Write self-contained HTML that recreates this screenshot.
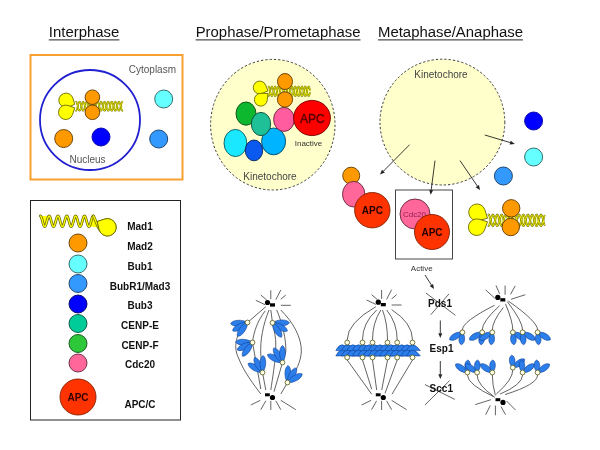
<!DOCTYPE html>
<html><head><meta charset="utf-8"><title>Spindle checkpoint</title>
<style>
html,body{margin:0;padding:0;background:#fff;width:600px;height:450px;overflow:hidden}
svg{display:block;font-family:"Liberation Sans",sans-serif;filter:blur(0.35px)}
</style></head><body>
<svg width="600" height="450" viewBox="0 0 600 450" font-family="Liberation Sans, sans-serif">
<rect width="600" height="450" fill="#fff"/>
<text x="48.8" y="37.0" font-size="14.9" fill="#111" text-anchor="start" font-weight="normal" textLength="70.6" lengthAdjust="spacingAndGlyphs">Interphase</text>
<line x1="48.8" y1="39.9" x2="119.39999999999999" y2="39.9" stroke="#222" stroke-width="1"/>
<text x="195.7" y="37.0" font-size="14.9" fill="#111" text-anchor="start" font-weight="normal" textLength="164.8" lengthAdjust="spacingAndGlyphs">Prophase/Prometaphase</text>
<line x1="195.7" y1="39.9" x2="360.5" y2="39.9" stroke="#222" stroke-width="1"/>
<text x="378.0" y="37.0" font-size="14.9" fill="#111" text-anchor="start" font-weight="normal" textLength="145" lengthAdjust="spacingAndGlyphs">Metaphase/Anaphase</text>
<line x1="378" y1="39.9" x2="523" y2="39.9" stroke="#222" stroke-width="1"/>
<rect x="30.5" y="55" width="152" height="124.5" fill="#fff" stroke="#F7A030" stroke-width="2"/>
<circle cx="90" cy="120" r="50" fill="#fff" stroke="#2020D0" stroke-width="1.8"/>
<text x="152.4" y="72.5" font-size="10" fill="#555" text-anchor="middle" font-weight="normal" >Cytoplasm</text>
<text x="87.5" y="162.5" font-size="10" fill="#555" text-anchor="middle" font-weight="normal" >Nucleus</text>
<path d="M76.00,101.60 L76.36,101.83 L76.72,102.48 L77.07,103.50 L77.43,104.78 L77.79,106.20 L78.15,107.62 L78.50,108.90 L78.86,109.92 L79.22,110.57 L79.58,110.80 L79.93,110.57 L80.29,109.92 L80.65,108.90 L81.01,107.62 L81.37,106.20 L81.72,104.78 L82.08,103.50 L82.44,102.48 L82.80,101.83 L83.15,101.60 L83.51,101.83 L83.87,102.48 L84.23,103.50 L84.58,104.78 L84.94,106.20 L85.30,107.62 L85.66,108.90 L86.02,109.92 L86.37,110.57 L86.73,110.80 L87.09,110.57 L87.45,109.92 L87.80,108.90 L88.16,107.62 L88.52,106.20 L88.88,104.78 L89.23,103.50 L89.59,102.48 L89.95,101.83 L90.31,101.60 L90.67,101.83 L91.02,102.48 L91.38,103.50 L91.74,104.78 L92.10,106.20 L92.45,107.62 L92.81,108.90 L93.17,109.92 L93.53,110.57 L93.88,110.80 L94.24,110.57 L94.60,109.92 L94.96,108.90 L95.32,107.62 L95.67,106.20 L96.03,104.78 L96.39,103.50 L96.75,102.48 L97.10,101.83 L97.46,101.60 L97.82,101.83 L98.18,102.48 L98.53,103.50 L98.89,104.78 L99.25,106.20 L99.61,107.62 L99.97,108.90 L100.32,109.92 L100.68,110.57 L101.04,110.80 L101.40,110.57 L101.75,109.92 L102.11,108.90 L102.47,107.62 L102.83,106.20 L103.18,104.78 L103.54,103.50 L103.90,102.48 L104.26,101.83 L104.62,101.60 L104.97,101.83 L105.33,102.48 L105.69,103.50 L106.05,104.78 L106.40,106.20 L106.76,107.62 L107.12,108.90 L107.48,109.92 L107.83,110.57 L108.19,110.80 L108.55,110.57 L108.91,109.92 L109.27,108.90 L109.62,107.62 L109.98,106.20 L110.34,104.78 L110.70,103.50 L111.05,102.48 L111.41,101.83 L111.77,101.60 L112.13,101.83 L112.48,102.48 L112.84,103.50 L113.20,104.78 L113.56,106.20 L113.92,107.62 L114.27,108.90 L114.63,109.92 L114.99,110.57 L115.35,110.80 L115.70,110.57 L116.06,109.92 L116.42,108.90 L116.78,107.62 L117.13,106.20 L117.49,104.78 L117.85,103.50 L118.21,102.48 L118.57,101.83 L118.92,101.60 L119.28,101.83 L119.64,102.48 L120.00,103.50 L120.35,104.78 L120.71,106.20 L121.07,107.62 L121.43,108.90 L121.78,109.92 L122.14,110.57 L122.50,110.80 L122.50,101.60 L116.69,104.44 L110.88,109.45 L105.06,110.45 L99.25,106.20 L93.44,101.95 L87.62,102.95 L81.81,107.96 L76.00,110.80 Z" fill="#FFFF33" fill-opacity="0.45" stroke="none"/>
<path d="M76.00,110.80 L76.36,110.57 L76.72,109.92 L77.07,108.90 L77.43,107.62 L77.79,106.20 L78.15,104.78 L78.50,103.50 L78.86,102.48 L79.22,101.83 L79.58,101.60 L79.93,101.83 L80.29,102.48 L80.65,103.50 L81.01,104.78 L81.37,106.20 L81.72,107.62 L82.08,108.90 L82.44,109.92 L82.80,110.57 L83.15,110.80 L83.51,110.57 L83.87,109.92 L84.23,108.90 L84.58,107.62 L84.94,106.20 L85.30,104.78 L85.66,103.50 L86.02,102.48 L86.37,101.83 L86.73,101.60 L87.09,101.83 L87.45,102.48 L87.80,103.50 L88.16,104.78 L88.52,106.20 L88.88,107.62 L89.23,108.90 L89.59,109.92 L89.95,110.57 L90.31,110.80 L90.67,110.57 L91.02,109.92 L91.38,108.90 L91.74,107.62 L92.10,106.20 L92.45,104.78 L92.81,103.50 L93.17,102.48 L93.53,101.83 L93.88,101.60 L94.24,101.83 L94.60,102.48 L94.96,103.50 L95.32,104.78 L95.67,106.20 L96.03,107.62 L96.39,108.90 L96.75,109.92 L97.10,110.57 L97.46,110.80 L97.82,110.57 L98.18,109.92 L98.53,108.90 L98.89,107.62 L99.25,106.20 L99.61,104.78 L99.97,103.50 L100.32,102.48 L100.68,101.83 L101.04,101.60 L101.40,101.83 L101.75,102.48 L102.11,103.50 L102.47,104.78 L102.83,106.20 L103.18,107.62 L103.54,108.90 L103.90,109.92 L104.26,110.57 L104.62,110.80 L104.97,110.57 L105.33,109.92 L105.69,108.90 L106.05,107.62 L106.40,106.20 L106.76,104.78 L107.12,103.50 L107.48,102.48 L107.83,101.83 L108.19,101.60 L108.55,101.83 L108.91,102.48 L109.27,103.50 L109.62,104.78 L109.98,106.20 L110.34,107.62 L110.70,108.90 L111.05,109.92 L111.41,110.57 L111.77,110.80 L112.13,110.57 L112.48,109.92 L112.84,108.90 L113.20,107.62 L113.56,106.20 L113.92,104.78 L114.27,103.50 L114.63,102.48 L114.99,101.83 L115.35,101.60 L115.70,101.83 L116.06,102.48 L116.42,103.50 L116.78,104.78 L117.13,106.20 L117.49,107.62 L117.85,108.90 L118.21,109.92 L118.57,110.57 L118.92,110.80 L119.28,110.57 L119.64,109.92 L120.00,108.90 L120.35,107.62 L120.71,106.20 L121.07,104.78 L121.43,103.50 L121.78,102.48 L122.14,101.83 L122.50,101.60" fill="none" stroke="#6a6a08" stroke-width="1.6" stroke-linejoin="round" stroke-linecap="round"/>
<path d="M76.00,110.80 L76.36,110.57 L76.72,109.92 L77.07,108.90 L77.43,107.62 L77.79,106.20 L78.15,104.78 L78.50,103.50 L78.86,102.48 L79.22,101.83 L79.58,101.60 L79.93,101.83 L80.29,102.48 L80.65,103.50 L81.01,104.78 L81.37,106.20 L81.72,107.62 L82.08,108.90 L82.44,109.92 L82.80,110.57 L83.15,110.80 L83.51,110.57 L83.87,109.92 L84.23,108.90 L84.58,107.62 L84.94,106.20 L85.30,104.78 L85.66,103.50 L86.02,102.48 L86.37,101.83 L86.73,101.60 L87.09,101.83 L87.45,102.48 L87.80,103.50 L88.16,104.78 L88.52,106.20 L88.88,107.62 L89.23,108.90 L89.59,109.92 L89.95,110.57 L90.31,110.80 L90.67,110.57 L91.02,109.92 L91.38,108.90 L91.74,107.62 L92.10,106.20 L92.45,104.78 L92.81,103.50 L93.17,102.48 L93.53,101.83 L93.88,101.60 L94.24,101.83 L94.60,102.48 L94.96,103.50 L95.32,104.78 L95.67,106.20 L96.03,107.62 L96.39,108.90 L96.75,109.92 L97.10,110.57 L97.46,110.80 L97.82,110.57 L98.18,109.92 L98.53,108.90 L98.89,107.62 L99.25,106.20 L99.61,104.78 L99.97,103.50 L100.32,102.48 L100.68,101.83 L101.04,101.60 L101.40,101.83 L101.75,102.48 L102.11,103.50 L102.47,104.78 L102.83,106.20 L103.18,107.62 L103.54,108.90 L103.90,109.92 L104.26,110.57 L104.62,110.80 L104.97,110.57 L105.33,109.92 L105.69,108.90 L106.05,107.62 L106.40,106.20 L106.76,104.78 L107.12,103.50 L107.48,102.48 L107.83,101.83 L108.19,101.60 L108.55,101.83 L108.91,102.48 L109.27,103.50 L109.62,104.78 L109.98,106.20 L110.34,107.62 L110.70,108.90 L111.05,109.92 L111.41,110.57 L111.77,110.80 L112.13,110.57 L112.48,109.92 L112.84,108.90 L113.20,107.62 L113.56,106.20 L113.92,104.78 L114.27,103.50 L114.63,102.48 L114.99,101.83 L115.35,101.60 L115.70,101.83 L116.06,102.48 L116.42,103.50 L116.78,104.78 L117.13,106.20 L117.49,107.62 L117.85,108.90 L118.21,109.92 L118.57,110.57 L118.92,110.80 L119.28,110.57 L119.64,109.92 L120.00,108.90 L120.35,107.62 L120.71,106.20 L121.07,104.78 L121.43,103.50 L121.78,102.48 L122.14,101.83 L122.50,101.60" fill="none" stroke="#FFFF00" stroke-width="0.85" stroke-linejoin="round" stroke-linecap="round"/>
<path d="M76.00,101.60 L76.36,101.83 L76.72,102.48 L77.07,103.50 L77.43,104.78 L77.79,106.20 L78.15,107.62 L78.50,108.90 L78.86,109.92 L79.22,110.57 L79.58,110.80 L79.93,110.57 L80.29,109.92 L80.65,108.90 L81.01,107.62 L81.37,106.20 L81.72,104.78 L82.08,103.50 L82.44,102.48 L82.80,101.83 L83.15,101.60 L83.51,101.83 L83.87,102.48 L84.23,103.50 L84.58,104.78 L84.94,106.20 L85.30,107.62 L85.66,108.90 L86.02,109.92 L86.37,110.57 L86.73,110.80 L87.09,110.57 L87.45,109.92 L87.80,108.90 L88.16,107.62 L88.52,106.20 L88.88,104.78 L89.23,103.50 L89.59,102.48 L89.95,101.83 L90.31,101.60 L90.67,101.83 L91.02,102.48 L91.38,103.50 L91.74,104.78 L92.10,106.20 L92.45,107.62 L92.81,108.90 L93.17,109.92 L93.53,110.57 L93.88,110.80 L94.24,110.57 L94.60,109.92 L94.96,108.90 L95.32,107.62 L95.67,106.20 L96.03,104.78 L96.39,103.50 L96.75,102.48 L97.10,101.83 L97.46,101.60 L97.82,101.83 L98.18,102.48 L98.53,103.50 L98.89,104.78 L99.25,106.20 L99.61,107.62 L99.97,108.90 L100.32,109.92 L100.68,110.57 L101.04,110.80 L101.40,110.57 L101.75,109.92 L102.11,108.90 L102.47,107.62 L102.83,106.20 L103.18,104.78 L103.54,103.50 L103.90,102.48 L104.26,101.83 L104.62,101.60 L104.97,101.83 L105.33,102.48 L105.69,103.50 L106.05,104.78 L106.40,106.20 L106.76,107.62 L107.12,108.90 L107.48,109.92 L107.83,110.57 L108.19,110.80 L108.55,110.57 L108.91,109.92 L109.27,108.90 L109.62,107.62 L109.98,106.20 L110.34,104.78 L110.70,103.50 L111.05,102.48 L111.41,101.83 L111.77,101.60 L112.13,101.83 L112.48,102.48 L112.84,103.50 L113.20,104.78 L113.56,106.20 L113.92,107.62 L114.27,108.90 L114.63,109.92 L114.99,110.57 L115.35,110.80 L115.70,110.57 L116.06,109.92 L116.42,108.90 L116.78,107.62 L117.13,106.20 L117.49,104.78 L117.85,103.50 L118.21,102.48 L118.57,101.83 L118.92,101.60 L119.28,101.83 L119.64,102.48 L120.00,103.50 L120.35,104.78 L120.71,106.20 L121.07,107.62 L121.43,108.90 L121.78,109.92 L122.14,110.57 L122.50,110.80" fill="none" stroke="#6a6a08" stroke-width="1.6" stroke-linejoin="round" stroke-linecap="round"/>
<path d="M76.00,101.60 L76.36,101.83 L76.72,102.48 L77.07,103.50 L77.43,104.78 L77.79,106.20 L78.15,107.62 L78.50,108.90 L78.86,109.92 L79.22,110.57 L79.58,110.80 L79.93,110.57 L80.29,109.92 L80.65,108.90 L81.01,107.62 L81.37,106.20 L81.72,104.78 L82.08,103.50 L82.44,102.48 L82.80,101.83 L83.15,101.60 L83.51,101.83 L83.87,102.48 L84.23,103.50 L84.58,104.78 L84.94,106.20 L85.30,107.62 L85.66,108.90 L86.02,109.92 L86.37,110.57 L86.73,110.80 L87.09,110.57 L87.45,109.92 L87.80,108.90 L88.16,107.62 L88.52,106.20 L88.88,104.78 L89.23,103.50 L89.59,102.48 L89.95,101.83 L90.31,101.60 L90.67,101.83 L91.02,102.48 L91.38,103.50 L91.74,104.78 L92.10,106.20 L92.45,107.62 L92.81,108.90 L93.17,109.92 L93.53,110.57 L93.88,110.80 L94.24,110.57 L94.60,109.92 L94.96,108.90 L95.32,107.62 L95.67,106.20 L96.03,104.78 L96.39,103.50 L96.75,102.48 L97.10,101.83 L97.46,101.60 L97.82,101.83 L98.18,102.48 L98.53,103.50 L98.89,104.78 L99.25,106.20 L99.61,107.62 L99.97,108.90 L100.32,109.92 L100.68,110.57 L101.04,110.80 L101.40,110.57 L101.75,109.92 L102.11,108.90 L102.47,107.62 L102.83,106.20 L103.18,104.78 L103.54,103.50 L103.90,102.48 L104.26,101.83 L104.62,101.60 L104.97,101.83 L105.33,102.48 L105.69,103.50 L106.05,104.78 L106.40,106.20 L106.76,107.62 L107.12,108.90 L107.48,109.92 L107.83,110.57 L108.19,110.80 L108.55,110.57 L108.91,109.92 L109.27,108.90 L109.62,107.62 L109.98,106.20 L110.34,104.78 L110.70,103.50 L111.05,102.48 L111.41,101.83 L111.77,101.60 L112.13,101.83 L112.48,102.48 L112.84,103.50 L113.20,104.78 L113.56,106.20 L113.92,107.62 L114.27,108.90 L114.63,109.92 L114.99,110.57 L115.35,110.80 L115.70,110.57 L116.06,109.92 L116.42,108.90 L116.78,107.62 L117.13,106.20 L117.49,104.78 L117.85,103.50 L118.21,102.48 L118.57,101.83 L118.92,101.60 L119.28,101.83 L119.64,102.48 L120.00,103.50 L120.35,104.78 L120.71,106.20 L121.07,107.62 L121.43,108.90 L121.78,109.92 L122.14,110.57 L122.50,110.80" fill="none" stroke="#FFFF00" stroke-width="0.85" stroke-linejoin="round" stroke-linecap="round"/>
<path d="M72.87,98.15 A7.2,7.2 0 1 0 68.89,106.89 L74.80,104.30 Z" fill="#FFFF00" stroke="#6b6b00" stroke-width="0.9" stroke-linejoin="round"/>
<path d="M68.03,105.49 A7.2,7.2 0 1 0 72.53,114.59 L74.80,107.80 Z" fill="#FFFF00" stroke="#6b6b00" stroke-width="0.9" stroke-linejoin="round"/>
<circle cx="92.4" cy="97.2" r="7.3" fill="#FF9900" stroke="#603a00" stroke-width="0.9"/>
<circle cx="92.4" cy="112.3" r="7.3" fill="#FF9900" stroke="#603a00" stroke-width="0.9"/>
<circle cx="63.7" cy="138.5" r="9.0" fill="#FF9900" stroke="#603a00" stroke-width="0.9"/>
<circle cx="101.0" cy="137.0" r="9.0" fill="#0000FF" stroke="#0000aa" stroke-width="0.9"/>
<circle cx="163.7" cy="99.0" r="9.0" fill="#66FFFF" stroke="#266060" stroke-width="0.9"/>
<circle cx="158.7" cy="139.0" r="9.0" fill="#3399FF" stroke="#133a60" stroke-width="0.9"/>
<rect x="30.5" y="200.5" width="150" height="219.5" fill="#fff" stroke="#222" stroke-width="1"/>
<path d="M40.3,216 L47,216 L44.5,226 Z" fill="#FFFF00"/>
<path d="M90.5,226.5 L98,227.5 L93.3,216 Z" fill="#FFFF00"/>
<path d="M40.30,216.00 L40.74,216.26 L41.18,217.01 L41.62,218.18 L42.07,219.66 L42.51,221.30 L42.95,222.94 L43.39,224.42 L43.83,225.59 L44.27,226.34 L44.72,226.60 L45.16,226.34 L45.60,225.59 L46.04,224.42 L46.48,222.94 L46.92,221.30 L47.37,219.66 L47.81,218.18 L48.25,217.01 L48.69,216.26 L49.13,216.00 L49.57,216.26 L50.02,217.01 L50.46,218.18 L50.90,219.66 L51.34,221.30 L51.78,222.94 L52.22,224.42 L52.67,225.59 L53.11,226.34 L53.55,226.60 L53.99,226.34 L54.43,225.59 L54.88,224.42 L55.32,222.94 L55.76,221.30 L56.20,219.66 L56.64,218.18 L57.08,217.01 L57.52,216.26 L57.97,216.00 L58.41,216.26 L58.85,217.01 L59.29,218.18 L59.73,219.66 L60.17,221.30 L60.62,222.94 L61.06,224.42 L61.50,225.59 L61.94,226.34 L62.38,226.60 L62.82,226.34 L63.27,225.59 L63.71,224.42 L64.15,222.94 L64.59,221.30 L65.03,219.66 L65.47,218.18 L65.92,217.01 L66.36,216.26 L66.80,216.00 L67.24,216.26 L67.68,217.01 L68.12,218.18 L68.57,219.66 L69.01,221.30 L69.45,222.94 L69.89,224.42 L70.33,225.59 L70.77,226.34 L71.22,226.60 L71.66,226.34 L72.10,225.59 L72.54,224.42 L72.98,222.94 L73.42,221.30 L73.87,219.66 L74.31,218.18 L74.75,217.01 L75.19,216.26 L75.63,216.00 L76.08,216.26 L76.52,217.01 L76.96,218.18 L77.40,219.66 L77.84,221.30 L78.28,222.94 L78.72,224.42 L79.17,225.59 L79.61,226.34 L80.05,226.60 L80.49,226.34 L80.93,225.59 L81.38,224.42 L81.82,222.94 L82.26,221.30 L82.70,219.66 L83.14,218.18 L83.58,217.01 L84.02,216.26 L84.47,216.00 L84.91,216.26 L85.35,217.01 L85.79,218.18 L86.23,219.66 L86.67,221.30 L87.12,222.94 L87.56,224.42 L88.00,225.59 L88.44,226.34 L88.88,226.60 L89.33,226.34 L89.77,225.59 L90.21,224.42 L90.65,222.94 L91.09,221.30 L91.53,219.66 L91.97,218.18 L92.42,217.01 L92.86,216.26 L93.30,216.00" fill="none" stroke="#6a6a08" stroke-width="2.8" stroke-linejoin="round" stroke-linecap="round"/>
<path d="M40.30,216.00 L40.74,216.26 L41.18,217.01 L41.62,218.18 L42.07,219.66 L42.51,221.30 L42.95,222.94 L43.39,224.42 L43.83,225.59 L44.27,226.34 L44.72,226.60 L45.16,226.34 L45.60,225.59 L46.04,224.42 L46.48,222.94 L46.92,221.30 L47.37,219.66 L47.81,218.18 L48.25,217.01 L48.69,216.26 L49.13,216.00 L49.57,216.26 L50.02,217.01 L50.46,218.18 L50.90,219.66 L51.34,221.30 L51.78,222.94 L52.22,224.42 L52.67,225.59 L53.11,226.34 L53.55,226.60 L53.99,226.34 L54.43,225.59 L54.88,224.42 L55.32,222.94 L55.76,221.30 L56.20,219.66 L56.64,218.18 L57.08,217.01 L57.52,216.26 L57.97,216.00 L58.41,216.26 L58.85,217.01 L59.29,218.18 L59.73,219.66 L60.17,221.30 L60.62,222.94 L61.06,224.42 L61.50,225.59 L61.94,226.34 L62.38,226.60 L62.82,226.34 L63.27,225.59 L63.71,224.42 L64.15,222.94 L64.59,221.30 L65.03,219.66 L65.47,218.18 L65.92,217.01 L66.36,216.26 L66.80,216.00 L67.24,216.26 L67.68,217.01 L68.12,218.18 L68.57,219.66 L69.01,221.30 L69.45,222.94 L69.89,224.42 L70.33,225.59 L70.77,226.34 L71.22,226.60 L71.66,226.34 L72.10,225.59 L72.54,224.42 L72.98,222.94 L73.42,221.30 L73.87,219.66 L74.31,218.18 L74.75,217.01 L75.19,216.26 L75.63,216.00 L76.08,216.26 L76.52,217.01 L76.96,218.18 L77.40,219.66 L77.84,221.30 L78.28,222.94 L78.72,224.42 L79.17,225.59 L79.61,226.34 L80.05,226.60 L80.49,226.34 L80.93,225.59 L81.38,224.42 L81.82,222.94 L82.26,221.30 L82.70,219.66 L83.14,218.18 L83.58,217.01 L84.02,216.26 L84.47,216.00 L84.91,216.26 L85.35,217.01 L85.79,218.18 L86.23,219.66 L86.67,221.30 L87.12,222.94 L87.56,224.42 L88.00,225.59 L88.44,226.34 L88.88,226.60 L89.33,226.34 L89.77,225.59 L90.21,224.42 L90.65,222.94 L91.09,221.30 L91.53,219.66 L91.97,218.18 L92.42,217.01 L92.86,216.26 L93.30,216.00" fill="none" stroke="#FFFF00" stroke-width="1.3" stroke-linejoin="round" stroke-linecap="round"/>
<path d="M93.3,216 C95.3,218 96,224 99.5,229.5" fill="none" stroke="#6a6a08" stroke-width="2.8" stroke-linejoin="round" stroke-linecap="round"/>
<path d="M93.3,216 C95.3,218 96,224 99.5,229.5" fill="none" stroke="#FFFF00" stroke-width="1.3" stroke-linejoin="round" stroke-linecap="round"/>
<path d="M99.03,229.29 A8.7,8.7 0 1 0 104.81,219.03 L97.20,221.50 Z" fill="#FFFF00" stroke="#6b6b00" stroke-width="0.9" stroke-linejoin="round"/>
<path d="M99.03,229.29 A8.7,8.7 0 1 0 104.81,219.03 L97.20,221.50 Z" fill="#FFFF00" stroke="#6b6b00" stroke-width="0.9" stroke-linejoin="round"/>
<circle cx="78.0" cy="243.0" r="9.0" fill="#FF9900" stroke="#603a00" stroke-width="0.9"/>
<circle cx="78.0" cy="264.0" r="9.0" fill="#66FFFF" stroke="#266060" stroke-width="0.9"/>
<circle cx="78.0" cy="283.5" r="9.0" fill="#3399FF" stroke="#133a60" stroke-width="0.9"/>
<circle cx="78.0" cy="304.0" r="9.0" fill="#0000FF" stroke="#000060" stroke-width="0.9"/>
<circle cx="78.0" cy="323.5" r="9.0" fill="#00CC99" stroke="#004d3a" stroke-width="0.9"/>
<circle cx="78.0" cy="343.5" r="9.0" fill="#2CC83A" stroke="#104c16" stroke-width="0.9"/>
<circle cx="78.0" cy="363.0" r="9.0" fill="#FF6699" stroke="#60263a" stroke-width="0.9"/>
<circle cx="78.0" cy="397.0" r="18.0" fill="#FF3300" stroke="#802000" stroke-width="0.9"/>
<text x="78.0" y="400.5" font-size="10" fill="#300" text-anchor="middle" font-weight="bold" >APC</text>
<text x="140.0" y="230.0" font-size="10" fill="#111" text-anchor="middle" font-weight="bold" >Mad1</text>
<text x="140.0" y="249.5" font-size="10" fill="#111" text-anchor="middle" font-weight="bold" >Mad2</text>
<text x="140.0" y="269.5" font-size="10" fill="#111" text-anchor="middle" font-weight="bold" >Bub1</text>
<text x="140.0" y="289.5" font-size="10" fill="#111" text-anchor="middle" font-weight="bold" >BubR1/Mad3</text>
<text x="140.0" y="309.0" font-size="10" fill="#111" text-anchor="middle" font-weight="bold" >Bub3</text>
<text x="140.0" y="328.5" font-size="10" fill="#111" text-anchor="middle" font-weight="bold" >CENP-E</text>
<text x="140.0" y="348.5" font-size="10" fill="#111" text-anchor="middle" font-weight="bold" >CENP-F</text>
<text x="140.0" y="367.5" font-size="10" fill="#111" text-anchor="middle" font-weight="bold" >Cdc20</text>
<text x="140.0" y="408.0" font-size="10" fill="#111" text-anchor="middle" font-weight="bold" >APC/C</text>
<ellipse cx="272.8" cy="124.7" rx="62.2" ry="65.3" fill="#FFFFCC" stroke="#3c3c3c" stroke-width="1" stroke-dasharray="2.3,2"/>
<path d="M268.50,86.50 L268.83,86.73 L269.17,87.42 L269.50,88.48 L269.84,89.82 L270.17,91.30 L270.51,92.78 L270.84,94.12 L271.18,95.18 L271.51,95.87 L271.85,96.10 L272.18,95.87 L272.52,95.18 L272.85,94.12 L273.19,92.78 L273.52,91.30 L273.85,89.82 L274.19,88.48 L274.52,87.42 L274.86,86.73 L275.19,86.50 L275.53,86.73 L275.86,87.42 L276.20,88.48 L276.53,89.82 L276.87,91.30 L277.20,92.78 L277.54,94.12 L277.87,95.18 L278.21,95.87 L278.54,96.10 L278.88,95.87 L279.21,95.18 L279.54,94.12 L279.88,92.78 L280.21,91.30 L280.55,89.82 L280.88,88.48 L281.22,87.42 L281.55,86.73 L281.89,86.50 L282.22,86.73 L282.56,87.42 L282.89,88.48 L283.23,89.82 L283.56,91.30 L283.90,92.78 L284.23,94.12 L284.56,95.18 L284.90,95.87 L285.23,96.10 L285.57,95.87 L285.90,95.18 L286.24,94.12 L286.57,92.78 L286.91,91.30 L287.24,89.82 L287.58,88.48 L287.91,87.42 L288.25,86.73 L288.58,86.50 L288.92,86.73 L289.25,87.42 L289.58,88.48 L289.92,89.82 L290.25,91.30 L290.59,92.78 L290.92,94.12 L291.26,95.18 L291.59,95.87 L291.93,96.10 L292.26,95.87 L292.60,95.18 L292.93,94.12 L293.27,92.78 L293.60,91.30 L293.94,89.82 L294.27,88.48 L294.60,87.42 L294.94,86.73 L295.27,86.50 L295.61,86.73 L295.94,87.42 L296.28,88.48 L296.61,89.82 L296.95,91.30 L297.28,92.78 L297.62,94.12 L297.95,95.18 L298.29,95.87 L298.62,96.10 L298.96,95.87 L299.29,95.18 L299.62,94.12 L299.96,92.78 L300.29,91.30 L300.63,89.82 L300.96,88.48 L301.30,87.42 L301.63,86.73 L301.97,86.50 L302.30,86.73 L302.64,87.42 L302.97,88.48 L303.31,89.82 L303.64,91.30 L303.98,92.78 L304.31,94.12 L304.65,95.18 L304.98,95.87 L305.31,96.10 L305.65,95.87 L305.98,95.18 L306.32,94.12 L306.65,92.78 L306.99,91.30 L307.32,89.82 L307.66,88.48 L307.99,87.42 L308.33,86.73 L308.66,86.50 L309.00,86.73 L309.33,87.42 L309.67,88.48 L310.00,89.82 L310.00,92.78 L304.81,87.02 L299.62,88.48 L294.44,94.69 L289.25,95.18 L284.06,89.12 L278.88,86.73 L273.69,92.05 L268.50,96.10 Z" fill="#FFFF33" fill-opacity="0.45" stroke="none"/>
<path d="M268.50,96.10 L268.83,95.87 L269.17,95.18 L269.50,94.12 L269.84,92.78 L270.17,91.30 L270.51,89.82 L270.84,88.48 L271.18,87.42 L271.51,86.73 L271.85,86.50 L272.18,86.73 L272.52,87.42 L272.85,88.48 L273.19,89.82 L273.52,91.30 L273.85,92.78 L274.19,94.12 L274.52,95.18 L274.86,95.87 L275.19,96.10 L275.53,95.87 L275.86,95.18 L276.20,94.12 L276.53,92.78 L276.87,91.30 L277.20,89.82 L277.54,88.48 L277.87,87.42 L278.21,86.73 L278.54,86.50 L278.88,86.73 L279.21,87.42 L279.54,88.48 L279.88,89.82 L280.21,91.30 L280.55,92.78 L280.88,94.12 L281.22,95.18 L281.55,95.87 L281.89,96.10 L282.22,95.87 L282.56,95.18 L282.89,94.12 L283.23,92.78 L283.56,91.30 L283.90,89.82 L284.23,88.48 L284.56,87.42 L284.90,86.73 L285.23,86.50 L285.57,86.73 L285.90,87.42 L286.24,88.48 L286.57,89.82 L286.91,91.30 L287.24,92.78 L287.58,94.12 L287.91,95.18 L288.25,95.87 L288.58,96.10 L288.92,95.87 L289.25,95.18 L289.58,94.12 L289.92,92.78 L290.25,91.30 L290.59,89.82 L290.92,88.48 L291.26,87.42 L291.59,86.73 L291.93,86.50 L292.26,86.73 L292.60,87.42 L292.93,88.48 L293.27,89.82 L293.60,91.30 L293.94,92.78 L294.27,94.12 L294.60,95.18 L294.94,95.87 L295.27,96.10 L295.61,95.87 L295.94,95.18 L296.28,94.12 L296.61,92.78 L296.95,91.30 L297.28,89.82 L297.62,88.48 L297.95,87.42 L298.29,86.73 L298.62,86.50 L298.96,86.73 L299.29,87.42 L299.62,88.48 L299.96,89.82 L300.29,91.30 L300.63,92.78 L300.96,94.12 L301.30,95.18 L301.63,95.87 L301.97,96.10 L302.30,95.87 L302.64,95.18 L302.97,94.12 L303.31,92.78 L303.64,91.30 L303.98,89.82 L304.31,88.48 L304.65,87.42 L304.98,86.73 L305.31,86.50 L305.65,86.73 L305.98,87.42 L306.32,88.48 L306.65,89.82 L306.99,91.30 L307.32,92.78 L307.66,94.12 L307.99,95.18 L308.33,95.87 L308.66,96.10 L309.00,95.87 L309.33,95.18 L309.67,94.12 L310.00,92.78" fill="none" stroke="#6a6a08" stroke-width="1.6" stroke-linejoin="round" stroke-linecap="round"/>
<path d="M268.50,96.10 L268.83,95.87 L269.17,95.18 L269.50,94.12 L269.84,92.78 L270.17,91.30 L270.51,89.82 L270.84,88.48 L271.18,87.42 L271.51,86.73 L271.85,86.50 L272.18,86.73 L272.52,87.42 L272.85,88.48 L273.19,89.82 L273.52,91.30 L273.85,92.78 L274.19,94.12 L274.52,95.18 L274.86,95.87 L275.19,96.10 L275.53,95.87 L275.86,95.18 L276.20,94.12 L276.53,92.78 L276.87,91.30 L277.20,89.82 L277.54,88.48 L277.87,87.42 L278.21,86.73 L278.54,86.50 L278.88,86.73 L279.21,87.42 L279.54,88.48 L279.88,89.82 L280.21,91.30 L280.55,92.78 L280.88,94.12 L281.22,95.18 L281.55,95.87 L281.89,96.10 L282.22,95.87 L282.56,95.18 L282.89,94.12 L283.23,92.78 L283.56,91.30 L283.90,89.82 L284.23,88.48 L284.56,87.42 L284.90,86.73 L285.23,86.50 L285.57,86.73 L285.90,87.42 L286.24,88.48 L286.57,89.82 L286.91,91.30 L287.24,92.78 L287.58,94.12 L287.91,95.18 L288.25,95.87 L288.58,96.10 L288.92,95.87 L289.25,95.18 L289.58,94.12 L289.92,92.78 L290.25,91.30 L290.59,89.82 L290.92,88.48 L291.26,87.42 L291.59,86.73 L291.93,86.50 L292.26,86.73 L292.60,87.42 L292.93,88.48 L293.27,89.82 L293.60,91.30 L293.94,92.78 L294.27,94.12 L294.60,95.18 L294.94,95.87 L295.27,96.10 L295.61,95.87 L295.94,95.18 L296.28,94.12 L296.61,92.78 L296.95,91.30 L297.28,89.82 L297.62,88.48 L297.95,87.42 L298.29,86.73 L298.62,86.50 L298.96,86.73 L299.29,87.42 L299.62,88.48 L299.96,89.82 L300.29,91.30 L300.63,92.78 L300.96,94.12 L301.30,95.18 L301.63,95.87 L301.97,96.10 L302.30,95.87 L302.64,95.18 L302.97,94.12 L303.31,92.78 L303.64,91.30 L303.98,89.82 L304.31,88.48 L304.65,87.42 L304.98,86.73 L305.31,86.50 L305.65,86.73 L305.98,87.42 L306.32,88.48 L306.65,89.82 L306.99,91.30 L307.32,92.78 L307.66,94.12 L307.99,95.18 L308.33,95.87 L308.66,96.10 L309.00,95.87 L309.33,95.18 L309.67,94.12 L310.00,92.78" fill="none" stroke="#FFFF00" stroke-width="0.85" stroke-linejoin="round" stroke-linecap="round"/>
<path d="M268.50,86.50 L268.83,86.73 L269.17,87.42 L269.50,88.48 L269.84,89.82 L270.17,91.30 L270.51,92.78 L270.84,94.12 L271.18,95.18 L271.51,95.87 L271.85,96.10 L272.18,95.87 L272.52,95.18 L272.85,94.12 L273.19,92.78 L273.52,91.30 L273.85,89.82 L274.19,88.48 L274.52,87.42 L274.86,86.73 L275.19,86.50 L275.53,86.73 L275.86,87.42 L276.20,88.48 L276.53,89.82 L276.87,91.30 L277.20,92.78 L277.54,94.12 L277.87,95.18 L278.21,95.87 L278.54,96.10 L278.88,95.87 L279.21,95.18 L279.54,94.12 L279.88,92.78 L280.21,91.30 L280.55,89.82 L280.88,88.48 L281.22,87.42 L281.55,86.73 L281.89,86.50 L282.22,86.73 L282.56,87.42 L282.89,88.48 L283.23,89.82 L283.56,91.30 L283.90,92.78 L284.23,94.12 L284.56,95.18 L284.90,95.87 L285.23,96.10 L285.57,95.87 L285.90,95.18 L286.24,94.12 L286.57,92.78 L286.91,91.30 L287.24,89.82 L287.58,88.48 L287.91,87.42 L288.25,86.73 L288.58,86.50 L288.92,86.73 L289.25,87.42 L289.58,88.48 L289.92,89.82 L290.25,91.30 L290.59,92.78 L290.92,94.12 L291.26,95.18 L291.59,95.87 L291.93,96.10 L292.26,95.87 L292.60,95.18 L292.93,94.12 L293.27,92.78 L293.60,91.30 L293.94,89.82 L294.27,88.48 L294.60,87.42 L294.94,86.73 L295.27,86.50 L295.61,86.73 L295.94,87.42 L296.28,88.48 L296.61,89.82 L296.95,91.30 L297.28,92.78 L297.62,94.12 L297.95,95.18 L298.29,95.87 L298.62,96.10 L298.96,95.87 L299.29,95.18 L299.62,94.12 L299.96,92.78 L300.29,91.30 L300.63,89.82 L300.96,88.48 L301.30,87.42 L301.63,86.73 L301.97,86.50 L302.30,86.73 L302.64,87.42 L302.97,88.48 L303.31,89.82 L303.64,91.30 L303.98,92.78 L304.31,94.12 L304.65,95.18 L304.98,95.87 L305.31,96.10 L305.65,95.87 L305.98,95.18 L306.32,94.12 L306.65,92.78 L306.99,91.30 L307.32,89.82 L307.66,88.48 L307.99,87.42 L308.33,86.73 L308.66,86.50 L309.00,86.73 L309.33,87.42 L309.67,88.48 L310.00,89.82" fill="none" stroke="#6a6a08" stroke-width="1.6" stroke-linejoin="round" stroke-linecap="round"/>
<path d="M268.50,86.50 L268.83,86.73 L269.17,87.42 L269.50,88.48 L269.84,89.82 L270.17,91.30 L270.51,92.78 L270.84,94.12 L271.18,95.18 L271.51,95.87 L271.85,96.10 L272.18,95.87 L272.52,95.18 L272.85,94.12 L273.19,92.78 L273.52,91.30 L273.85,89.82 L274.19,88.48 L274.52,87.42 L274.86,86.73 L275.19,86.50 L275.53,86.73 L275.86,87.42 L276.20,88.48 L276.53,89.82 L276.87,91.30 L277.20,92.78 L277.54,94.12 L277.87,95.18 L278.21,95.87 L278.54,96.10 L278.88,95.87 L279.21,95.18 L279.54,94.12 L279.88,92.78 L280.21,91.30 L280.55,89.82 L280.88,88.48 L281.22,87.42 L281.55,86.73 L281.89,86.50 L282.22,86.73 L282.56,87.42 L282.89,88.48 L283.23,89.82 L283.56,91.30 L283.90,92.78 L284.23,94.12 L284.56,95.18 L284.90,95.87 L285.23,96.10 L285.57,95.87 L285.90,95.18 L286.24,94.12 L286.57,92.78 L286.91,91.30 L287.24,89.82 L287.58,88.48 L287.91,87.42 L288.25,86.73 L288.58,86.50 L288.92,86.73 L289.25,87.42 L289.58,88.48 L289.92,89.82 L290.25,91.30 L290.59,92.78 L290.92,94.12 L291.26,95.18 L291.59,95.87 L291.93,96.10 L292.26,95.87 L292.60,95.18 L292.93,94.12 L293.27,92.78 L293.60,91.30 L293.94,89.82 L294.27,88.48 L294.60,87.42 L294.94,86.73 L295.27,86.50 L295.61,86.73 L295.94,87.42 L296.28,88.48 L296.61,89.82 L296.95,91.30 L297.28,92.78 L297.62,94.12 L297.95,95.18 L298.29,95.87 L298.62,96.10 L298.96,95.87 L299.29,95.18 L299.62,94.12 L299.96,92.78 L300.29,91.30 L300.63,89.82 L300.96,88.48 L301.30,87.42 L301.63,86.73 L301.97,86.50 L302.30,86.73 L302.64,87.42 L302.97,88.48 L303.31,89.82 L303.64,91.30 L303.98,92.78 L304.31,94.12 L304.65,95.18 L304.98,95.87 L305.31,96.10 L305.65,95.87 L305.98,95.18 L306.32,94.12 L306.65,92.78 L306.99,91.30 L307.32,89.82 L307.66,88.48 L307.99,87.42 L308.33,86.73 L308.66,86.50 L309.00,86.73 L309.33,87.42 L309.67,88.48 L310.00,89.82" fill="none" stroke="#FFFF00" stroke-width="0.85" stroke-linejoin="round" stroke-linecap="round"/>
<path d="M265.61,85.05 A6.4,6.4 0 1 0 262.31,93.34 L268.00,90.80 Z" fill="#FFFF00" stroke="#6b6b00" stroke-width="0.9" stroke-linejoin="round"/>
<path d="M260.98,93.30 A6.4,6.4 0 1 0 267.15,100.47 L268.00,93.50 Z" fill="#FFFF00" stroke="#6b6b00" stroke-width="0.9" stroke-linejoin="round"/>
<ellipse cx="246.0" cy="113.6" rx="10.0" ry="11.6" fill="#0DB82E" stroke="#044511" stroke-width="0.9"/>
<ellipse cx="235.4" cy="143.0" rx="11.4" ry="13.6" fill="#1AE8FF" stroke="#095860" stroke-width="0.9"/>
<ellipse cx="273.6" cy="141.4" rx="12.0" ry="13.4" fill="#00B4FF" stroke="#004460" stroke-width="0.9"/>
<ellipse cx="254.0" cy="150.4" rx="8.7" ry="10.4" fill="#0A5AF0" stroke="#03225b" stroke-width="0.9"/>
<ellipse cx="261.0" cy="124.0" rx="9.7" ry="11.6" fill="#1FC097" stroke="#0b4839" stroke-width="0.9"/>
<ellipse cx="284.0" cy="119.4" rx="10.4" ry="12.0" fill="#FF5CA0" stroke="#60223c" stroke-width="0.9"/>
<ellipse cx="285.0" cy="81.5" rx="7.5" ry="8.0" fill="#FF9900" stroke="#603a00" stroke-width="0.9"/>
<ellipse cx="285.0" cy="99.5" rx="7.6" ry="7.7" fill="#FF9900" stroke="#603a00" stroke-width="0.9"/>
<ellipse cx="312.0" cy="118.0" rx="18.4" ry="17.6" fill="#FF0000" stroke="#700000" stroke-width="0.9"/>
<text x="312.3" y="122.5" font-size="12" fill="#500" text-anchor="middle" font-weight="normal" stroke="#500" stroke-width="0.35">APC</text>
<text x="308.5" y="146.0" font-size="8" fill="#333" text-anchor="middle" font-weight="normal" >Inactive</text>
<text x="270.0" y="179.5" font-size="10" fill="#444" text-anchor="middle" font-weight="normal" >Kinetochore</text>
<ellipse cx="442.4" cy="122.1" rx="62.4" ry="62.9" fill="#FFFFCC" stroke="#3c3c3c" stroke-width="1" stroke-dasharray="2.3,2"/>
<text x="441.0" y="77.5" font-size="10" fill="#444" text-anchor="middle" font-weight="normal" >Kinetochore</text>
<line x1="409.6" y1="144.7" x2="383.4" y2="171.2" stroke="#222" stroke-width="0.9"/>
<path d="M380.0,174.6 L382.0,169.8 L384.8,172.6 Z" fill="#222"/>
<line x1="435.0" y1="160.6" x2="431.2" y2="189.9" stroke="#222" stroke-width="0.9"/>
<path d="M430.6,194.7 L429.2,189.7 L433.2,190.2 Z" fill="#222"/>
<line x1="460.0" y1="160.6" x2="477.3" y2="186.0" stroke="#222" stroke-width="0.9"/>
<path d="M480.0,190.0 L475.6,187.2 L479.0,184.9 Z" fill="#222"/>
<line x1="484.8" y1="135.0" x2="510.2" y2="142.6" stroke="#222" stroke-width="0.9"/>
<path d="M514.8,144.0 L509.6,144.5 L510.8,140.7 Z" fill="#222"/>
<circle cx="533.6" cy="121.0" r="9.0" fill="#0000FF" stroke="#0000aa" stroke-width="0.9"/>
<circle cx="533.6" cy="157.0" r="9.0" fill="#66FFFF" stroke="#266060" stroke-width="0.9"/>
<circle cx="503.4" cy="176.0" r="9.0" fill="#3399FF" stroke="#133a60" stroke-width="0.9"/>
<circle cx="351.2" cy="175.7" r="8.5" fill="#FF9900" stroke="#603a00" stroke-width="0.9"/>
<ellipse cx="353.7" cy="194.2" rx="11.2" ry="12.8" fill="#FF6699" stroke="#60263a" stroke-width="0.9"/>
<circle cx="372.3" cy="210.2" r="17.7" fill="#FF3300" stroke="#802000" stroke-width="0.9"/>
<text x="372.3" y="214.0" font-size="10" fill="#200" text-anchor="middle" font-weight="bold" >APC</text>
<rect x="395.5" y="190" width="57" height="69" fill="none" stroke="#333" stroke-width="0.9"/>
<circle cx="415.0" cy="214.0" r="15.0" fill="#FF6699" stroke="#60263a" stroke-width="0.9"/>
<text x="414.5" y="216.8" font-size="8" fill="#902050" text-anchor="middle" font-weight="normal" >Cdc20</text>
<circle cx="432.0" cy="232.0" r="17.5" fill="#FF3300" stroke="#802000" stroke-width="0.9"/>
<text x="432.0" y="235.7" font-size="10" fill="#200" text-anchor="middle" font-weight="bold" >APC</text>
<text x="421.7" y="271.0" font-size="8" fill="#333" text-anchor="middle" font-weight="normal" >Active</text>
<line x1="425.0" y1="275.0" x2="431.4" y2="285.0" stroke="#222" stroke-width="0.9"/>
<path d="M434.0,289.0 L429.7,286.0 L433.1,283.9 Z" fill="#222"/>
<path d="M488.50,214.60 L488.94,214.88 L489.38,215.69 L489.81,216.95 L490.25,218.54 L490.69,220.30 L491.12,222.06 L491.56,223.65 L492.00,224.91 L492.44,225.72 L492.88,226.00 L493.31,225.72 L493.75,224.91 L494.19,223.65 L494.62,222.06 L495.06,220.30 L495.50,218.54 L495.94,216.95 L496.38,215.69 L496.81,214.88 L497.25,214.60 L497.69,214.88 L498.12,215.69 L498.56,216.95 L499.00,218.54 L499.44,220.30 L499.88,222.06 L500.31,223.65 L500.75,224.91 L501.19,225.72 L501.62,226.00 L502.06,225.72 L502.50,224.91 L502.94,223.65 L503.38,222.06 L503.81,220.30 L504.25,218.54 L504.69,216.95 L505.12,215.69 L505.56,214.88 L506.00,214.60 L506.44,214.88 L506.88,215.69 L507.31,216.95 L507.75,218.54 L508.19,220.30 L508.62,222.06 L509.06,223.65 L509.50,224.91 L509.94,225.72 L510.38,226.00 L510.81,225.72 L511.25,224.91 L511.69,223.65 L512.12,222.06 L512.56,220.30 L513.00,218.54 L513.44,216.95 L513.88,215.69 L514.31,214.88 L514.75,214.60 L515.19,214.88 L515.62,215.69 L516.06,216.95 L516.50,218.54 L516.94,220.30 L517.38,222.06 L517.81,223.65 L518.25,224.91 L518.69,225.72 L519.12,226.00 L519.56,225.72 L520.00,224.91 L520.44,223.65 L520.88,222.06 L521.31,220.30 L521.75,218.54 L522.19,216.95 L522.62,215.69 L523.06,214.88 L523.50,214.60 L523.94,214.88 L524.38,215.69 L524.81,216.95 L525.25,218.54 L525.69,220.30 L526.12,222.06 L526.56,223.65 L527.00,224.91 L527.44,225.72 L527.88,226.00 L528.31,225.72 L528.75,224.91 L529.19,223.65 L529.62,222.06 L530.06,220.30 L530.50,218.54 L530.94,216.95 L531.38,215.69 L531.81,214.88 L532.25,214.60 L532.69,214.88 L533.12,215.69 L533.56,216.95 L534.00,218.54 L534.44,220.30 L534.88,222.06 L535.31,223.65 L535.75,224.91 L536.19,225.72 L536.62,226.00 L537.06,225.72 L537.50,224.91 L537.94,223.65 L538.38,222.06 L538.81,220.30 L539.25,218.54 L539.69,216.95 L540.12,215.69 L540.56,214.88 L541.00,214.60 L541.44,214.88 L541.88,215.69 L542.31,216.95 L542.75,218.54 L543.19,220.30 L543.62,222.06 L544.06,223.65 L544.50,224.91 L544.50,215.69 L537.50,215.69 L530.50,222.06 L523.50,226.00 L516.50,222.06 L509.50,215.69 L502.50,215.69 L495.50,222.06 L488.50,226.00 Z" fill="#FFFF33" fill-opacity="0.45" stroke="none"/>
<path d="M488.50,226.00 L488.94,225.72 L489.38,224.91 L489.81,223.65 L490.25,222.06 L490.69,220.30 L491.12,218.54 L491.56,216.95 L492.00,215.69 L492.44,214.88 L492.88,214.60 L493.31,214.88 L493.75,215.69 L494.19,216.95 L494.62,218.54 L495.06,220.30 L495.50,222.06 L495.94,223.65 L496.38,224.91 L496.81,225.72 L497.25,226.00 L497.69,225.72 L498.12,224.91 L498.56,223.65 L499.00,222.06 L499.44,220.30 L499.88,218.54 L500.31,216.95 L500.75,215.69 L501.19,214.88 L501.62,214.60 L502.06,214.88 L502.50,215.69 L502.94,216.95 L503.38,218.54 L503.81,220.30 L504.25,222.06 L504.69,223.65 L505.12,224.91 L505.56,225.72 L506.00,226.00 L506.44,225.72 L506.88,224.91 L507.31,223.65 L507.75,222.06 L508.19,220.30 L508.62,218.54 L509.06,216.95 L509.50,215.69 L509.94,214.88 L510.38,214.60 L510.81,214.88 L511.25,215.69 L511.69,216.95 L512.12,218.54 L512.56,220.30 L513.00,222.06 L513.44,223.65 L513.88,224.91 L514.31,225.72 L514.75,226.00 L515.19,225.72 L515.62,224.91 L516.06,223.65 L516.50,222.06 L516.94,220.30 L517.38,218.54 L517.81,216.95 L518.25,215.69 L518.69,214.88 L519.12,214.60 L519.56,214.88 L520.00,215.69 L520.44,216.95 L520.88,218.54 L521.31,220.30 L521.75,222.06 L522.19,223.65 L522.62,224.91 L523.06,225.72 L523.50,226.00 L523.94,225.72 L524.38,224.91 L524.81,223.65 L525.25,222.06 L525.69,220.30 L526.12,218.54 L526.56,216.95 L527.00,215.69 L527.44,214.88 L527.88,214.60 L528.31,214.88 L528.75,215.69 L529.19,216.95 L529.62,218.54 L530.06,220.30 L530.50,222.06 L530.94,223.65 L531.38,224.91 L531.81,225.72 L532.25,226.00 L532.69,225.72 L533.12,224.91 L533.56,223.65 L534.00,222.06 L534.44,220.30 L534.88,218.54 L535.31,216.95 L535.75,215.69 L536.19,214.88 L536.62,214.60 L537.06,214.88 L537.50,215.69 L537.94,216.95 L538.38,218.54 L538.81,220.30 L539.25,222.06 L539.69,223.65 L540.12,224.91 L540.56,225.72 L541.00,226.00 L541.44,225.72 L541.88,224.91 L542.31,223.65 L542.75,222.06 L543.19,220.30 L543.62,218.54 L544.06,216.95 L544.50,215.69" fill="none" stroke="#6a6a08" stroke-width="1.9" stroke-linejoin="round" stroke-linecap="round"/>
<path d="M488.50,226.00 L488.94,225.72 L489.38,224.91 L489.81,223.65 L490.25,222.06 L490.69,220.30 L491.12,218.54 L491.56,216.95 L492.00,215.69 L492.44,214.88 L492.88,214.60 L493.31,214.88 L493.75,215.69 L494.19,216.95 L494.62,218.54 L495.06,220.30 L495.50,222.06 L495.94,223.65 L496.38,224.91 L496.81,225.72 L497.25,226.00 L497.69,225.72 L498.12,224.91 L498.56,223.65 L499.00,222.06 L499.44,220.30 L499.88,218.54 L500.31,216.95 L500.75,215.69 L501.19,214.88 L501.62,214.60 L502.06,214.88 L502.50,215.69 L502.94,216.95 L503.38,218.54 L503.81,220.30 L504.25,222.06 L504.69,223.65 L505.12,224.91 L505.56,225.72 L506.00,226.00 L506.44,225.72 L506.88,224.91 L507.31,223.65 L507.75,222.06 L508.19,220.30 L508.62,218.54 L509.06,216.95 L509.50,215.69 L509.94,214.88 L510.38,214.60 L510.81,214.88 L511.25,215.69 L511.69,216.95 L512.12,218.54 L512.56,220.30 L513.00,222.06 L513.44,223.65 L513.88,224.91 L514.31,225.72 L514.75,226.00 L515.19,225.72 L515.62,224.91 L516.06,223.65 L516.50,222.06 L516.94,220.30 L517.38,218.54 L517.81,216.95 L518.25,215.69 L518.69,214.88 L519.12,214.60 L519.56,214.88 L520.00,215.69 L520.44,216.95 L520.88,218.54 L521.31,220.30 L521.75,222.06 L522.19,223.65 L522.62,224.91 L523.06,225.72 L523.50,226.00 L523.94,225.72 L524.38,224.91 L524.81,223.65 L525.25,222.06 L525.69,220.30 L526.12,218.54 L526.56,216.95 L527.00,215.69 L527.44,214.88 L527.88,214.60 L528.31,214.88 L528.75,215.69 L529.19,216.95 L529.62,218.54 L530.06,220.30 L530.50,222.06 L530.94,223.65 L531.38,224.91 L531.81,225.72 L532.25,226.00 L532.69,225.72 L533.12,224.91 L533.56,223.65 L534.00,222.06 L534.44,220.30 L534.88,218.54 L535.31,216.95 L535.75,215.69 L536.19,214.88 L536.62,214.60 L537.06,214.88 L537.50,215.69 L537.94,216.95 L538.38,218.54 L538.81,220.30 L539.25,222.06 L539.69,223.65 L540.12,224.91 L540.56,225.72 L541.00,226.00 L541.44,225.72 L541.88,224.91 L542.31,223.65 L542.75,222.06 L543.19,220.30 L543.62,218.54 L544.06,216.95 L544.50,215.69" fill="none" stroke="#FFFF00" stroke-width="1.0" stroke-linejoin="round" stroke-linecap="round"/>
<path d="M488.50,214.60 L488.94,214.88 L489.38,215.69 L489.81,216.95 L490.25,218.54 L490.69,220.30 L491.12,222.06 L491.56,223.65 L492.00,224.91 L492.44,225.72 L492.88,226.00 L493.31,225.72 L493.75,224.91 L494.19,223.65 L494.62,222.06 L495.06,220.30 L495.50,218.54 L495.94,216.95 L496.38,215.69 L496.81,214.88 L497.25,214.60 L497.69,214.88 L498.12,215.69 L498.56,216.95 L499.00,218.54 L499.44,220.30 L499.88,222.06 L500.31,223.65 L500.75,224.91 L501.19,225.72 L501.62,226.00 L502.06,225.72 L502.50,224.91 L502.94,223.65 L503.38,222.06 L503.81,220.30 L504.25,218.54 L504.69,216.95 L505.12,215.69 L505.56,214.88 L506.00,214.60 L506.44,214.88 L506.88,215.69 L507.31,216.95 L507.75,218.54 L508.19,220.30 L508.62,222.06 L509.06,223.65 L509.50,224.91 L509.94,225.72 L510.38,226.00 L510.81,225.72 L511.25,224.91 L511.69,223.65 L512.12,222.06 L512.56,220.30 L513.00,218.54 L513.44,216.95 L513.88,215.69 L514.31,214.88 L514.75,214.60 L515.19,214.88 L515.62,215.69 L516.06,216.95 L516.50,218.54 L516.94,220.30 L517.38,222.06 L517.81,223.65 L518.25,224.91 L518.69,225.72 L519.12,226.00 L519.56,225.72 L520.00,224.91 L520.44,223.65 L520.88,222.06 L521.31,220.30 L521.75,218.54 L522.19,216.95 L522.62,215.69 L523.06,214.88 L523.50,214.60 L523.94,214.88 L524.38,215.69 L524.81,216.95 L525.25,218.54 L525.69,220.30 L526.12,222.06 L526.56,223.65 L527.00,224.91 L527.44,225.72 L527.88,226.00 L528.31,225.72 L528.75,224.91 L529.19,223.65 L529.62,222.06 L530.06,220.30 L530.50,218.54 L530.94,216.95 L531.38,215.69 L531.81,214.88 L532.25,214.60 L532.69,214.88 L533.12,215.69 L533.56,216.95 L534.00,218.54 L534.44,220.30 L534.88,222.06 L535.31,223.65 L535.75,224.91 L536.19,225.72 L536.62,226.00 L537.06,225.72 L537.50,224.91 L537.94,223.65 L538.38,222.06 L538.81,220.30 L539.25,218.54 L539.69,216.95 L540.12,215.69 L540.56,214.88 L541.00,214.60 L541.44,214.88 L541.88,215.69 L542.31,216.95 L542.75,218.54 L543.19,220.30 L543.62,222.06 L544.06,223.65 L544.50,224.91" fill="none" stroke="#6a6a08" stroke-width="1.9" stroke-linejoin="round" stroke-linecap="round"/>
<path d="M488.50,214.60 L488.94,214.88 L489.38,215.69 L489.81,216.95 L490.25,218.54 L490.69,220.30 L491.12,222.06 L491.56,223.65 L492.00,224.91 L492.44,225.72 L492.88,226.00 L493.31,225.72 L493.75,224.91 L494.19,223.65 L494.62,222.06 L495.06,220.30 L495.50,218.54 L495.94,216.95 L496.38,215.69 L496.81,214.88 L497.25,214.60 L497.69,214.88 L498.12,215.69 L498.56,216.95 L499.00,218.54 L499.44,220.30 L499.88,222.06 L500.31,223.65 L500.75,224.91 L501.19,225.72 L501.62,226.00 L502.06,225.72 L502.50,224.91 L502.94,223.65 L503.38,222.06 L503.81,220.30 L504.25,218.54 L504.69,216.95 L505.12,215.69 L505.56,214.88 L506.00,214.60 L506.44,214.88 L506.88,215.69 L507.31,216.95 L507.75,218.54 L508.19,220.30 L508.62,222.06 L509.06,223.65 L509.50,224.91 L509.94,225.72 L510.38,226.00 L510.81,225.72 L511.25,224.91 L511.69,223.65 L512.12,222.06 L512.56,220.30 L513.00,218.54 L513.44,216.95 L513.88,215.69 L514.31,214.88 L514.75,214.60 L515.19,214.88 L515.62,215.69 L516.06,216.95 L516.50,218.54 L516.94,220.30 L517.38,222.06 L517.81,223.65 L518.25,224.91 L518.69,225.72 L519.12,226.00 L519.56,225.72 L520.00,224.91 L520.44,223.65 L520.88,222.06 L521.31,220.30 L521.75,218.54 L522.19,216.95 L522.62,215.69 L523.06,214.88 L523.50,214.60 L523.94,214.88 L524.38,215.69 L524.81,216.95 L525.25,218.54 L525.69,220.30 L526.12,222.06 L526.56,223.65 L527.00,224.91 L527.44,225.72 L527.88,226.00 L528.31,225.72 L528.75,224.91 L529.19,223.65 L529.62,222.06 L530.06,220.30 L530.50,218.54 L530.94,216.95 L531.38,215.69 L531.81,214.88 L532.25,214.60 L532.69,214.88 L533.12,215.69 L533.56,216.95 L534.00,218.54 L534.44,220.30 L534.88,222.06 L535.31,223.65 L535.75,224.91 L536.19,225.72 L536.62,226.00 L537.06,225.72 L537.50,224.91 L537.94,223.65 L538.38,222.06 L538.81,220.30 L539.25,218.54 L539.69,216.95 L540.12,215.69 L540.56,214.88 L541.00,214.60 L541.44,214.88 L541.88,215.69 L542.31,216.95 L542.75,218.54 L543.19,220.30 L543.62,222.06 L544.06,223.65 L544.50,224.91" fill="none" stroke="#FFFF00" stroke-width="1.0" stroke-linejoin="round" stroke-linecap="round"/>
<path d="M484.94,209.89 A8.3,8.3 0 1 0 478.95,220.37 L487.50,218.30 Z" fill="#FFFF00" stroke="#6b6b00" stroke-width="0.9" stroke-linejoin="round"/>
<path d="M479.11,219.26 A8.3,8.3 0 1 0 484.50,230.04 L487.50,221.80 Z" fill="#FFFF00" stroke="#6b6b00" stroke-width="0.9" stroke-linejoin="round"/>
<circle cx="511.2" cy="208.3" r="8.7" fill="#FF9900" stroke="#603a00" stroke-width="0.9"/>
<circle cx="510.8" cy="227.0" r="8.7" fill="#FF9900" stroke="#603a00" stroke-width="0.9"/>
<line x1="425.9" y1="293.0" x2="455.4" y2="315.3" stroke="#484848" stroke-width="0.85"/>
<line x1="430.8" y1="314.7" x2="449.0" y2="293.9" stroke="#484848" stroke-width="0.85"/>
<text x="440.0" y="306.9" font-size="10" fill="#111" text-anchor="middle" font-weight="bold" >Pds1</text>
<line x1="440.3" y1="320.5" x2="440.3" y2="333.2" stroke="#222" stroke-width="0.9"/>
<path d="M440.3,338.0 L438.3,333.2 L442.3,333.2 Z" fill="#222"/>
<text x="441.5" y="352.3" font-size="10" fill="#111" text-anchor="middle" font-weight="bold" >Esp1</text>
<line x1="440.3" y1="361.0" x2="440.3" y2="374.2" stroke="#222" stroke-width="0.9"/>
<path d="M440.3,379.0 L438.3,374.2 L442.3,374.2 Z" fill="#222"/>
<line x1="425.0" y1="384.6" x2="454.8" y2="399.4" stroke="#484848" stroke-width="0.85"/>
<line x1="425.0" y1="404.9" x2="449.6" y2="380.6" stroke="#484848" stroke-width="0.85"/>
<text x="441.3" y="392.0" font-size="10" fill="#111" text-anchor="middle" font-weight="bold" >Scc1</text>
<line x1="255.8" y1="300.3" x2="265.0" y2="304.7" stroke="#484848" stroke-width="0.85"/>
<line x1="260.8" y1="295.0" x2="266.7" y2="300.0" stroke="#484848" stroke-width="0.85"/>
<line x1="270.8" y1="290.3" x2="270.8" y2="299.2" stroke="#484848" stroke-width="0.85"/>
<line x1="280.8" y1="290.0" x2="275.8" y2="299.7" stroke="#484848" stroke-width="0.85"/>
<line x1="285.8" y1="295.0" x2="280.8" y2="299.2" stroke="#484848" stroke-width="0.85"/>
<line x1="280.8" y1="305.3" x2="290.8" y2="305.3" stroke="#484848" stroke-width="0.85"/>
<line x1="250.8" y1="405.0" x2="260.3" y2="400.3" stroke="#484848" stroke-width="0.85"/>
<line x1="260.8" y1="409.7" x2="265.8" y2="400.8" stroke="#484848" stroke-width="0.85"/>
<line x1="270.8" y1="400.8" x2="270.8" y2="410.0" stroke="#484848" stroke-width="0.85"/>
<line x1="275.8" y1="400.8" x2="280.8" y2="409.7" stroke="#484848" stroke-width="0.85"/>
<line x1="280.8" y1="400.3" x2="295.8" y2="409.7" stroke="#484848" stroke-width="0.85"/>
<line x1="265.8" y1="306.7" x2="247.5" y2="322.5" stroke="#484848" stroke-width="0.85"/>
<path d="M247.5,322.5 C238,330 232,345 238.5,358 C244,372 254,385 260.8,394" fill="none" stroke="#484848" stroke-width="0.85"/>
<path d="M265.3,310.8 C258,320 253.5,332 252.5,342.5 L260.8,389" fill="none" stroke="#484848" stroke-width="0.85"/>
<path d="M269,310 C263,325 260,340 260.8,355 L262.5,372.5 L265.8,390" fill="none" stroke="#484848" stroke-width="0.85"/>
<path d="M270.8,310 L272.5,322.8 C274.5,332 276,338 275.8,345 C275.5,362 272.5,378 270.8,390" fill="none" stroke="#484848" stroke-width="0.85"/>
<path d="M276.7,310 C282,322 286.5,340 285.8,352 L282.5,362.5 L274,391.7" fill="none" stroke="#484848" stroke-width="0.85"/>
<path d="M280.8,310 C293,322 302,338 301.3,352 C300.5,362 297,370 287.5,382.5 L280.8,394" fill="none" stroke="#484848" stroke-width="0.85"/>
<path d="M247.50,322.50 C243.01,319.29 232.80,319.36 230.54,323.69 C233.38,327.66 243.51,326.31 247.50,322.50 Z" fill="#2C7EEA" stroke="#0f3f95" stroke-width="0.6" stroke-linejoin="round"/>
<path d="M247.50,322.50 C242.08,321.48 232.84,325.87 232.63,330.74 C236.88,333.14 245.49,327.64 247.50,322.50 Z" fill="#2C7EEA" stroke="#0f3f95" stroke-width="0.6" stroke-linejoin="round"/>
<path d="M247.50,322.50 C242.15,323.87 235.64,331.75 237.51,336.25 C242.37,336.64 247.85,328.01 247.50,322.50 Z" fill="#2C7EEA" stroke="#0f3f95" stroke-width="0.6" stroke-linejoin="round"/>
<path d="M252.50,342.50 C248.38,338.83 238.20,337.84 235.51,341.91 C237.91,346.15 248.13,345.87 252.50,342.50 Z" fill="#2C7EEA" stroke="#0f3f95" stroke-width="0.6" stroke-linejoin="round"/>
<path d="M252.50,342.50 C247.14,341.20 237.69,345.10 237.22,349.95 C241.34,352.57 250.22,347.53 252.50,342.50 Z" fill="#2C7EEA" stroke="#0f3f95" stroke-width="0.6" stroke-linejoin="round"/>
<path d="M252.50,342.50 C247.15,343.87 240.64,351.75 242.51,356.25 C247.37,356.64 252.85,348.01 252.50,342.50 Z" fill="#2C7EEA" stroke="#0f3f95" stroke-width="0.6" stroke-linejoin="round"/>
<path d="M272.50,322.80 C276.75,326.32 286.95,326.96 289.50,322.80 C286.95,318.64 276.75,319.28 272.50,322.80 Z" fill="#2C7EEA" stroke="#0f3f95" stroke-width="0.6" stroke-linejoin="round"/>
<path d="M272.50,322.80 C274.51,327.94 283.12,333.44 287.37,331.04 C287.16,326.17 277.92,321.78 272.50,322.80 Z" fill="#2C7EEA" stroke="#0f3f95" stroke-width="0.6" stroke-linejoin="round"/>
<path d="M272.50,322.80 C271.77,328.27 276.63,337.26 281.51,337.22 C283.69,332.85 277.74,324.54 272.50,322.80 Z" fill="#2C7EEA" stroke="#0f3f95" stroke-width="0.6" stroke-linejoin="round"/>
<path d="M262.50,372.50 C260.76,367.26 252.45,361.31 248.08,363.49 C248.04,368.37 257.03,373.23 262.50,372.50 Z" fill="#2C7EEA" stroke="#0f3f95" stroke-width="0.6" stroke-linejoin="round"/>
<path d="M262.50,372.50 C263.61,367.09 259.39,357.79 254.52,357.49 C252.04,361.69 257.40,370.40 262.50,372.50 Z" fill="#2C7EEA" stroke="#0f3f95" stroke-width="0.6" stroke-linejoin="round"/>
<path d="M262.50,372.50 C266.17,368.38 267.16,358.20 263.09,355.51 C258.85,357.91 259.13,368.13 262.50,372.50 Z" fill="#2C7EEA" stroke="#0f3f95" stroke-width="0.6" stroke-linejoin="round"/>
<path d="M282.50,362.50 C280.40,357.40 271.69,352.04 267.49,354.52 C267.79,359.39 277.09,363.61 282.50,362.50 Z" fill="#2C7EEA" stroke="#0f3f95" stroke-width="0.6" stroke-linejoin="round"/>
<path d="M282.50,362.50 C283.33,357.04 278.62,347.97 273.74,347.93 C271.49,352.26 277.29,360.67 282.50,362.50 Z" fill="#2C7EEA" stroke="#0f3f95" stroke-width="0.6" stroke-linejoin="round"/>
<path d="M282.50,362.50 C286.02,358.25 286.66,348.05 282.50,345.50 C278.34,348.05 278.98,358.25 282.50,362.50 Z" fill="#2C7EEA" stroke="#0f3f95" stroke-width="0.6" stroke-linejoin="round"/>
<path d="M287.50,382.50 C291.17,378.38 292.16,368.20 288.09,365.51 C283.85,367.91 284.13,378.13 287.50,382.50 Z" fill="#2C7EEA" stroke="#0f3f95" stroke-width="0.6" stroke-linejoin="round"/>
<path d="M287.50,382.50 C292.71,380.67 298.51,372.26 296.26,367.93 C291.38,367.97 286.67,377.04 287.50,382.50 Z" fill="#2C7EEA" stroke="#0f3f95" stroke-width="0.6" stroke-linejoin="round"/>
<path d="M287.50,382.50 C292.94,383.42 302.09,378.88 302.22,374.00 C297.93,371.67 289.42,377.33 287.50,382.50 Z" fill="#2C7EEA" stroke="#0f3f95" stroke-width="0.6" stroke-linejoin="round"/>
<circle cx="247.5" cy="322.5" r="2.4" fill="#FFFFE6" stroke="#55551a" stroke-width="0.8"/>
<circle cx="252.5" cy="342.5" r="2.4" fill="#FFFFE6" stroke="#55551a" stroke-width="0.8"/>
<circle cx="272.5" cy="322.8" r="2.4" fill="#FFFFE6" stroke="#55551a" stroke-width="0.8"/>
<circle cx="262.5" cy="372.5" r="2.4" fill="#FFFFE6" stroke="#55551a" stroke-width="0.8"/>
<circle cx="282.5" cy="362.5" r="2.4" fill="#FFFFE6" stroke="#55551a" stroke-width="0.8"/>
<circle cx="287.5" cy="382.5" r="2.4" fill="#FFFFE6" stroke="#55551a" stroke-width="0.8"/>
<circle cx="267.5" cy="302.5" r="2.6" fill="#000"/>
<rect x="270.0" y="303.3" width="5" height="3.3" fill="#000"/>
<circle cx="272.5" cy="397.5" r="2.6" fill="#000"/>
<rect x="265.0" y="393.3" width="4.8" height="3" fill="#000"/>
<line x1="366.6" y1="300.0" x2="375.8" y2="304.4" stroke="#484848" stroke-width="0.85"/>
<line x1="371.6" y1="294.7" x2="377.5" y2="299.7" stroke="#484848" stroke-width="0.85"/>
<line x1="381.6" y1="290.0" x2="381.6" y2="298.9" stroke="#484848" stroke-width="0.85"/>
<line x1="391.6" y1="289.7" x2="386.6" y2="299.4" stroke="#484848" stroke-width="0.85"/>
<line x1="396.6" y1="294.7" x2="391.6" y2="298.9" stroke="#484848" stroke-width="0.85"/>
<line x1="391.6" y1="305.0" x2="401.6" y2="305.0" stroke="#484848" stroke-width="0.85"/>
<line x1="361.6" y1="405.0" x2="371.1" y2="400.3" stroke="#484848" stroke-width="0.85"/>
<line x1="371.6" y1="409.7" x2="376.6" y2="400.8" stroke="#484848" stroke-width="0.85"/>
<line x1="381.6" y1="400.8" x2="381.6" y2="410.0" stroke="#484848" stroke-width="0.85"/>
<line x1="386.6" y1="400.8" x2="391.6" y2="409.7" stroke="#484848" stroke-width="0.85"/>
<line x1="391.6" y1="400.3" x2="406.6" y2="409.7" stroke="#484848" stroke-width="0.85"/>
<path d="M375.8,306.7 Q347.2,323 347.2,340" fill="none" stroke="#484848" stroke-width="0.85"/>
<line x1="347.2" y1="360.0" x2="371.7" y2="394.2" stroke="#484848" stroke-width="0.85"/>
<path d="M376.7,310.0 Q362.5,323 362.5,340" fill="none" stroke="#484848" stroke-width="0.85"/>
<line x1="362.5" y1="360.0" x2="371.7" y2="389.2" stroke="#484848" stroke-width="0.85"/>
<path d="M380.8,310.0 Q372.5,323 372.5,340" fill="none" stroke="#484848" stroke-width="0.85"/>
<line x1="372.5" y1="360.0" x2="376.7" y2="390.0" stroke="#484848" stroke-width="0.85"/>
<path d="M382.5,310.0 Q387.5,323 387.5,340" fill="none" stroke="#484848" stroke-width="0.85"/>
<line x1="387.5" y1="360.0" x2="381.7" y2="390.0" stroke="#484848" stroke-width="0.85"/>
<path d="M386.7,310.0 Q397.2,323 397.2,340" fill="none" stroke="#484848" stroke-width="0.85"/>
<line x1="397.2" y1="360.0" x2="385.0" y2="393.3" stroke="#484848" stroke-width="0.85"/>
<path d="M391.7,309.7 Q412.5,323 412.5,340" fill="none" stroke="#484848" stroke-width="0.85"/>
<line x1="412.5" y1="360.0" x2="392.0" y2="394.2" stroke="#484848" stroke-width="0.85"/>
<path d="M335.8,350.6 Q341.3,339.0 349.8,350.6 Z" fill="#2C7EEA" stroke="#0f3f95" stroke-width="0.6" stroke-linejoin="round"/>
<path d="M341.2,350.6 Q346.7,339.0 355.2,350.6 Z" fill="#2C7EEA" stroke="#0f3f95" stroke-width="0.6" stroke-linejoin="round"/>
<path d="M346.6,350.6 Q352.1,339.0 360.6,350.6 Z" fill="#2C7EEA" stroke="#0f3f95" stroke-width="0.6" stroke-linejoin="round"/>
<path d="M352.1,350.6 Q357.6,339.0 366.1,350.6 Z" fill="#2C7EEA" stroke="#0f3f95" stroke-width="0.6" stroke-linejoin="round"/>
<path d="M357.5,350.6 Q363.0,339.0 371.5,350.6 Z" fill="#2C7EEA" stroke="#0f3f95" stroke-width="0.6" stroke-linejoin="round"/>
<path d="M362.9,350.6 Q368.4,339.0 376.9,350.6 Z" fill="#2C7EEA" stroke="#0f3f95" stroke-width="0.6" stroke-linejoin="round"/>
<path d="M368.3,350.6 Q373.8,339.0 382.3,350.6 Z" fill="#2C7EEA" stroke="#0f3f95" stroke-width="0.6" stroke-linejoin="round"/>
<path d="M373.8,350.6 Q379.3,339.0 387.8,350.6 Z" fill="#2C7EEA" stroke="#0f3f95" stroke-width="0.6" stroke-linejoin="round"/>
<path d="M379.2,350.6 Q384.7,339.0 393.2,350.6 Z" fill="#2C7EEA" stroke="#0f3f95" stroke-width="0.6" stroke-linejoin="round"/>
<path d="M384.6,350.6 Q390.1,339.0 398.6,350.6 Z" fill="#2C7EEA" stroke="#0f3f95" stroke-width="0.6" stroke-linejoin="round"/>
<path d="M390.0,350.6 Q395.5,339.0 404.0,350.6 Z" fill="#2C7EEA" stroke="#0f3f95" stroke-width="0.6" stroke-linejoin="round"/>
<path d="M395.5,350.6 Q401.0,339.0 409.5,350.6 Z" fill="#2C7EEA" stroke="#0f3f95" stroke-width="0.6" stroke-linejoin="round"/>
<path d="M400.9,350.6 Q406.4,339.0 414.9,350.6 Z" fill="#2C7EEA" stroke="#0f3f95" stroke-width="0.6" stroke-linejoin="round"/>
<path d="M406.3,350.6 Q411.8,339.0 420.3,350.6 Z" fill="#2C7EEA" stroke="#0f3f95" stroke-width="0.6" stroke-linejoin="round"/>
<path d="M335.8,355.9 Q341.3,344.3 349.8,355.9 Z" fill="#2C7EEA" stroke="#0f3f95" stroke-width="0.6" stroke-linejoin="round"/>
<path d="M341.2,355.9 Q346.7,344.3 355.2,355.9 Z" fill="#2C7EEA" stroke="#0f3f95" stroke-width="0.6" stroke-linejoin="round"/>
<path d="M346.6,355.9 Q352.1,344.3 360.6,355.9 Z" fill="#2C7EEA" stroke="#0f3f95" stroke-width="0.6" stroke-linejoin="round"/>
<path d="M352.1,355.9 Q357.6,344.3 366.1,355.9 Z" fill="#2C7EEA" stroke="#0f3f95" stroke-width="0.6" stroke-linejoin="round"/>
<path d="M357.5,355.9 Q363.0,344.3 371.5,355.9 Z" fill="#2C7EEA" stroke="#0f3f95" stroke-width="0.6" stroke-linejoin="round"/>
<path d="M362.9,355.9 Q368.4,344.3 376.9,355.9 Z" fill="#2C7EEA" stroke="#0f3f95" stroke-width="0.6" stroke-linejoin="round"/>
<path d="M368.3,355.9 Q373.8,344.3 382.3,355.9 Z" fill="#2C7EEA" stroke="#0f3f95" stroke-width="0.6" stroke-linejoin="round"/>
<path d="M373.8,355.9 Q379.3,344.3 387.8,355.9 Z" fill="#2C7EEA" stroke="#0f3f95" stroke-width="0.6" stroke-linejoin="round"/>
<path d="M379.2,355.9 Q384.7,344.3 393.2,355.9 Z" fill="#2C7EEA" stroke="#0f3f95" stroke-width="0.6" stroke-linejoin="round"/>
<path d="M384.6,355.9 Q390.1,344.3 398.6,355.9 Z" fill="#2C7EEA" stroke="#0f3f95" stroke-width="0.6" stroke-linejoin="round"/>
<path d="M390.0,355.9 Q395.5,344.3 404.0,355.9 Z" fill="#2C7EEA" stroke="#0f3f95" stroke-width="0.6" stroke-linejoin="round"/>
<path d="M395.5,355.9 Q401.0,344.3 409.5,355.9 Z" fill="#2C7EEA" stroke="#0f3f95" stroke-width="0.6" stroke-linejoin="round"/>
<path d="M400.9,355.9 Q406.4,344.3 414.9,355.9 Z" fill="#2C7EEA" stroke="#0f3f95" stroke-width="0.6" stroke-linejoin="round"/>
<path d="M406.3,355.9 Q411.8,344.3 420.3,355.9 Z" fill="#2C7EEA" stroke="#0f3f95" stroke-width="0.6" stroke-linejoin="round"/>
<circle cx="347.2" cy="342.5" r="2.4" fill="#FFFFE6" stroke="#55551a" stroke-width="0.8"/>
<circle cx="347.2" cy="357.5" r="2.4" fill="#FFFFE6" stroke="#55551a" stroke-width="0.8"/>
<circle cx="362.5" cy="342.5" r="2.4" fill="#FFFFE6" stroke="#55551a" stroke-width="0.8"/>
<circle cx="362.5" cy="357.5" r="2.4" fill="#FFFFE6" stroke="#55551a" stroke-width="0.8"/>
<circle cx="372.5" cy="342.5" r="2.4" fill="#FFFFE6" stroke="#55551a" stroke-width="0.8"/>
<circle cx="372.5" cy="357.5" r="2.4" fill="#FFFFE6" stroke="#55551a" stroke-width="0.8"/>
<circle cx="387.5" cy="342.5" r="2.4" fill="#FFFFE6" stroke="#55551a" stroke-width="0.8"/>
<circle cx="387.5" cy="357.5" r="2.4" fill="#FFFFE6" stroke="#55551a" stroke-width="0.8"/>
<circle cx="397.2" cy="342.5" r="2.4" fill="#FFFFE6" stroke="#55551a" stroke-width="0.8"/>
<circle cx="397.2" cy="357.5" r="2.4" fill="#FFFFE6" stroke="#55551a" stroke-width="0.8"/>
<circle cx="412.5" cy="342.5" r="2.4" fill="#FFFFE6" stroke="#55551a" stroke-width="0.8"/>
<circle cx="412.5" cy="357.5" r="2.4" fill="#FFFFE6" stroke="#55551a" stroke-width="0.8"/>
<circle cx="378.3" cy="302.2" r="2.6" fill="#000"/>
<rect x="380.8" y="303.0" width="5" height="3.3" fill="#000"/>
<circle cx="383.3" cy="397.5" r="2.6" fill="#000"/>
<rect x="375.8" y="393.3" width="4.8" height="3" fill="#000"/>
<line x1="485.7" y1="290.0" x2="494.9" y2="298.3" stroke="#484848" stroke-width="0.85"/>
<line x1="496.0" y1="285.5" x2="499.6" y2="293.8" stroke="#484848" stroke-width="0.85"/>
<line x1="505.1" y1="285.5" x2="505.1" y2="294.7" stroke="#484848" stroke-width="0.85"/>
<line x1="515.2" y1="285.9" x2="510.6" y2="294.3" stroke="#484848" stroke-width="0.85"/>
<line x1="525.3" y1="294.7" x2="511.0" y2="299.3" stroke="#484848" stroke-width="0.85"/>
<line x1="475.3" y1="404.6" x2="490.9" y2="399.7" stroke="#484848" stroke-width="0.85"/>
<line x1="485.7" y1="414.7" x2="490.3" y2="405.5" stroke="#484848" stroke-width="0.85"/>
<line x1="495.4" y1="405.5" x2="495.4" y2="415.3" stroke="#484848" stroke-width="0.85"/>
<line x1="501.0" y1="406.5" x2="505.5" y2="414.7" stroke="#484848" stroke-width="0.85"/>
<line x1="506.5" y1="401.0" x2="515.6" y2="410.1" stroke="#484848" stroke-width="0.85"/>
<path d="M494.5,305.3 Q462.4,321.5 462.4,330" fill="none" stroke="#484848" stroke-width="0.85"/>
<path d="M499.6,305.7 Q482.2,321.5 482.2,330" fill="none" stroke="#484848" stroke-width="0.85"/>
<path d="M503.3,307.5 Q492.3,321.5 492.3,330" fill="none" stroke="#484848" stroke-width="0.85"/>
<path d="M505.5,303.8 Q512.8,321.5 512.8,330" fill="none" stroke="#484848" stroke-width="0.85"/>
<path d="M507.3,301.6 Q522.6,321.5 522.6,330" fill="none" stroke="#484848" stroke-width="0.85"/>
<path d="M508.3,301.0 Q537.6,321.5 537.6,330" fill="none" stroke="#484848" stroke-width="0.85"/>
<path d="M494.9,397.3 Q467.4,384.5 467.4,374.9" fill="none" stroke="#484848" stroke-width="0.85"/>
<path d="M493.6,396.3 Q477.1,384.5 477.1,374.9" fill="none" stroke="#484848" stroke-width="0.85"/>
<path d="M495.4,395.4 Q492.3,384.5 492.3,374.9" fill="none" stroke="#484848" stroke-width="0.85"/>
<path d="M496.3,394.1 Q512.8,379.6 512.8,370.0" fill="none" stroke="#484848" stroke-width="0.85"/>
<path d="M500.0,394.1 Q522.6,384.5 522.6,374.9" fill="none" stroke="#484848" stroke-width="0.85"/>
<path d="M505.1,394.5 Q537.6,384.5 537.6,374.9" fill="none" stroke="#484848" stroke-width="0.85"/>
<path d="M462.40,332.30 C457.44,331.10 449.43,334.99 449.58,339.70 C453.59,342.19 460.96,337.20 462.40,332.30 Z" fill="#2C7EEA" stroke="#0f3f95" stroke-width="0.6" stroke-linejoin="round"/>
<path d="M462.40,332.30 C458.73,335.12 457.46,342.53 461.31,344.75 C465.49,343.24 465.52,335.71 462.40,332.30 Z" fill="#2C7EEA" stroke="#0f3f95" stroke-width="0.6" stroke-linejoin="round"/>
<path d="M482.20,332.30 C477.24,331.10 469.23,334.99 469.38,339.70 C473.39,342.19 480.76,337.20 482.20,332.30 Z" fill="#2C7EEA" stroke="#0f3f95" stroke-width="0.6" stroke-linejoin="round"/>
<path d="M482.20,332.30 C478.53,335.12 477.26,342.53 481.11,344.75 C485.29,343.24 485.32,335.71 482.20,332.30 Z" fill="#2C7EEA" stroke="#0f3f95" stroke-width="0.6" stroke-linejoin="round"/>
<path d="M492.30,332.30 C487.34,331.10 479.33,334.99 479.48,339.70 C483.49,342.19 490.86,337.20 492.30,332.30 Z" fill="#2C7EEA" stroke="#0f3f95" stroke-width="0.6" stroke-linejoin="round"/>
<path d="M492.30,332.30 C488.63,335.12 487.36,342.53 491.21,344.75 C495.39,343.24 495.42,335.71 492.30,332.30 Z" fill="#2C7EEA" stroke="#0f3f95" stroke-width="0.6" stroke-linejoin="round"/>
<path d="M512.80,332.30 C514.24,337.20 521.61,342.19 525.62,339.70 C525.77,334.99 517.76,331.10 512.80,332.30 Z" fill="#2C7EEA" stroke="#0f3f95" stroke-width="0.6" stroke-linejoin="round"/>
<path d="M512.80,332.30 C509.68,335.71 509.71,343.24 513.89,344.75 C517.74,342.53 516.47,335.12 512.80,332.30 Z" fill="#2C7EEA" stroke="#0f3f95" stroke-width="0.6" stroke-linejoin="round"/>
<path d="M522.60,332.30 C524.04,337.20 531.41,342.19 535.42,339.70 C535.57,334.99 527.56,331.10 522.60,332.30 Z" fill="#2C7EEA" stroke="#0f3f95" stroke-width="0.6" stroke-linejoin="round"/>
<path d="M522.60,332.30 C519.48,335.71 519.51,343.24 523.69,344.75 C527.54,342.53 526.27,335.12 522.60,332.30 Z" fill="#2C7EEA" stroke="#0f3f95" stroke-width="0.6" stroke-linejoin="round"/>
<path d="M537.60,332.30 C539.04,337.20 546.41,342.19 550.42,339.70 C550.57,334.99 542.56,331.10 537.60,332.30 Z" fill="#2C7EEA" stroke="#0f3f95" stroke-width="0.6" stroke-linejoin="round"/>
<path d="M537.60,332.30 C534.48,335.71 534.51,343.24 538.69,344.75 C542.54,342.53 541.27,335.12 537.60,332.30 Z" fill="#2C7EEA" stroke="#0f3f95" stroke-width="0.6" stroke-linejoin="round"/>
<circle cx="462.4" cy="332.3" r="2.4" fill="#FFFFE6" stroke="#55551a" stroke-width="0.8"/>
<circle cx="482.2" cy="332.3" r="2.4" fill="#FFFFE6" stroke="#55551a" stroke-width="0.8"/>
<circle cx="492.3" cy="332.3" r="2.4" fill="#FFFFE6" stroke="#55551a" stroke-width="0.8"/>
<circle cx="512.8" cy="332.3" r="2.4" fill="#FFFFE6" stroke="#55551a" stroke-width="0.8"/>
<circle cx="522.6" cy="332.3" r="2.4" fill="#FFFFE6" stroke="#55551a" stroke-width="0.8"/>
<circle cx="537.6" cy="332.3" r="2.4" fill="#FFFFE6" stroke="#55551a" stroke-width="0.8"/>
<path d="M467.40,372.50 C466.45,367.54 459.69,362.02 455.52,364.18 C454.92,368.84 462.41,373.30 467.40,372.50 Z" fill="#2C7EEA" stroke="#0f3f95" stroke-width="0.6" stroke-linejoin="round"/>
<path d="M467.40,372.50 C470.92,369.50 471.80,362.02 467.84,360.01 C463.74,361.74 464.10,369.26 467.40,372.50 Z" fill="#2C7EEA" stroke="#0f3f95" stroke-width="0.6" stroke-linejoin="round"/>
<path d="M477.10,372.50 C476.15,367.54 469.39,362.02 465.22,364.18 C464.62,368.84 472.11,373.30 477.10,372.50 Z" fill="#2C7EEA" stroke="#0f3f95" stroke-width="0.6" stroke-linejoin="round"/>
<path d="M477.10,372.50 C480.62,369.50 481.50,362.02 477.54,360.01 C473.44,361.74 473.80,369.26 477.10,372.50 Z" fill="#2C7EEA" stroke="#0f3f95" stroke-width="0.6" stroke-linejoin="round"/>
<path d="M492.30,372.50 C491.35,367.54 484.59,362.02 480.42,364.18 C479.82,368.84 487.31,373.30 492.30,372.50 Z" fill="#2C7EEA" stroke="#0f3f95" stroke-width="0.6" stroke-linejoin="round"/>
<path d="M492.30,372.50 C495.82,369.50 496.70,362.02 492.74,360.01 C488.64,361.74 489.00,369.26 492.30,372.50 Z" fill="#2C7EEA" stroke="#0f3f95" stroke-width="0.6" stroke-linejoin="round"/>
<path d="M512.80,367.60 C517.79,368.40 525.28,363.94 524.68,359.28 C520.51,357.12 513.75,362.64 512.80,367.60 Z" fill="#2C7EEA" stroke="#0f3f95" stroke-width="0.6" stroke-linejoin="round"/>
<path d="M512.80,367.60 C515.92,364.19 515.89,356.66 511.71,355.15 C507.86,357.37 509.13,364.78 512.80,367.60 Z" fill="#2C7EEA" stroke="#0f3f95" stroke-width="0.6" stroke-linejoin="round"/>
<path d="M522.60,372.50 C527.59,373.30 535.08,368.84 534.48,364.18 C530.31,362.02 523.55,367.54 522.60,372.50 Z" fill="#2C7EEA" stroke="#0f3f95" stroke-width="0.6" stroke-linejoin="round"/>
<path d="M522.60,372.50 C525.72,369.09 525.69,361.56 521.51,360.05 C517.66,362.27 518.93,369.68 522.60,372.50 Z" fill="#2C7EEA" stroke="#0f3f95" stroke-width="0.6" stroke-linejoin="round"/>
<path d="M537.60,372.50 C542.59,373.30 550.08,368.84 549.48,364.18 C545.31,362.02 538.55,367.54 537.60,372.50 Z" fill="#2C7EEA" stroke="#0f3f95" stroke-width="0.6" stroke-linejoin="round"/>
<path d="M537.60,372.50 C540.72,369.09 540.69,361.56 536.51,360.05 C532.66,362.27 533.93,369.68 537.60,372.50 Z" fill="#2C7EEA" stroke="#0f3f95" stroke-width="0.6" stroke-linejoin="round"/>
<circle cx="467.4" cy="372.5" r="2.4" fill="#FFFFE6" stroke="#55551a" stroke-width="0.8"/>
<circle cx="477.1" cy="372.5" r="2.4" fill="#FFFFE6" stroke="#55551a" stroke-width="0.8"/>
<circle cx="492.3" cy="372.5" r="2.4" fill="#FFFFE6" stroke="#55551a" stroke-width="0.8"/>
<circle cx="512.8" cy="367.6" r="2.4" fill="#FFFFE6" stroke="#55551a" stroke-width="0.8"/>
<circle cx="522.6" cy="372.5" r="2.4" fill="#FFFFE6" stroke="#55551a" stroke-width="0.8"/>
<circle cx="537.6" cy="372.5" r="2.4" fill="#FFFFE6" stroke="#55551a" stroke-width="0.8"/>
<circle cx="497.8" cy="297.4" r="2.6" fill="#000"/>
<rect x="500.3" y="298.2" width="5" height="3.3" fill="#000"/>
<circle cx="503.0" cy="402.4" r="2.6" fill="#000"/>
<rect x="495.5" y="398.2" width="4.8" height="3" fill="#000"/>
</svg>
</body></html>
